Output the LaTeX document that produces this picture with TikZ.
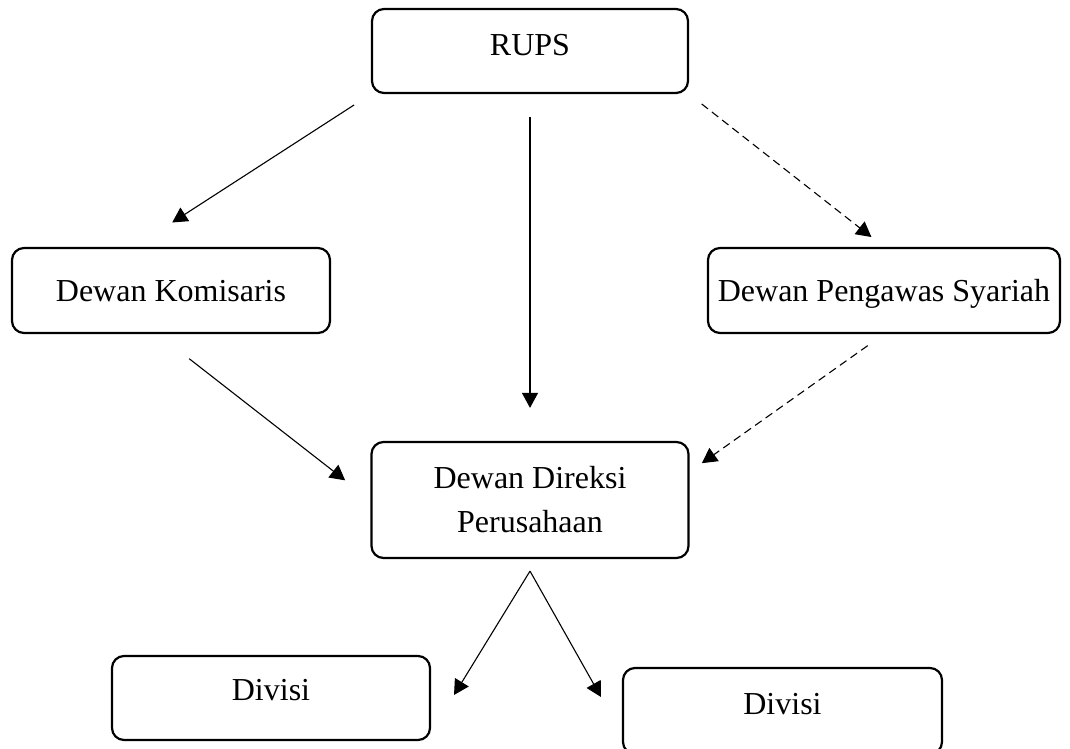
\documentclass[tikz,border=0pt]{standalone}
\usepackage{fontspec}
\setmainfont{Liberation Serif}
\usetikzlibrary{arrows.meta}

\begin{document}
\begin{tikzpicture}[x=1pt,y=-1pt]
\tikzset{
  orgbox/.style={rectangle,draw,line width=2.2pt,rounded corners=12pt,inner sep=0pt,align=center,
    font=\fontsize{32}{44}\selectfont,text height=21pt},
  directed/.style={-{Triangle[length=15pt,width=16pt]},line width=1.1pt},
  dashline/.style={directed,dash pattern=on 8pt off 5pt}
}
\clip (0,0) rectangle (1070,749);
\node[orgbox,minimum width=316pt,minimum height=84pt,text depth=12pt] (n_rups) at (530,51) {RUPS};
\node[orgbox,minimum width=318pt,minimum height=85pt,text depth=0pt] (n_kom) at (171,290.5) {Dewan Komisaris};
\node[orgbox,minimum width=352pt,minimum height=85pt,text depth=0pt] (n_syr) at (884,290.5) {Dewan Pengawas Syariah};
\node[orgbox,minimum width=317pt,minimum height=116pt,text height=,text depth=] (n_dir) at (530,500) {Dewan Direksi\\Perusahaan};
\node[orgbox,minimum width=318pt,minimum height=84pt,text depth=16pt] (n_divl) at (271,698) {Divisi};
\node[orgbox,minimum width=319pt,minimum height=86pt,text depth=14pt] (n_divr) at (782.5,711) {Divisi};
\coordinate (c_divl) at (454,695);
\coordinate (c_divr) at (601,697);
\draw[directed,shorten <=20pt,shorten >=45pt] (n_rups.south west) -- (n_kom.130);
\draw[directed,shorten <=23pt,shorten >=33pt] (n_rups.south) -- (n_rups.south |- n_dir.north);
\draw[dashline,shorten <=16pt,shorten >=16pt] (n_rups.south east) -- (n_syr.north);
\draw[directed,shorten <=40pt,shorten >=32pt] (n_kom.253) -- (n_dir.west);
\draw[dashline,shorten <=20pt,shorten >=15pt] (n_syr.south) -- (n_dir.10);
\draw[directed] ([yshift=-12pt]n_dir.south) -- (c_divl);
\draw[directed] ([yshift=-12pt]n_dir.south) -- (c_divr);
\end{tikzpicture}
\end{document}
